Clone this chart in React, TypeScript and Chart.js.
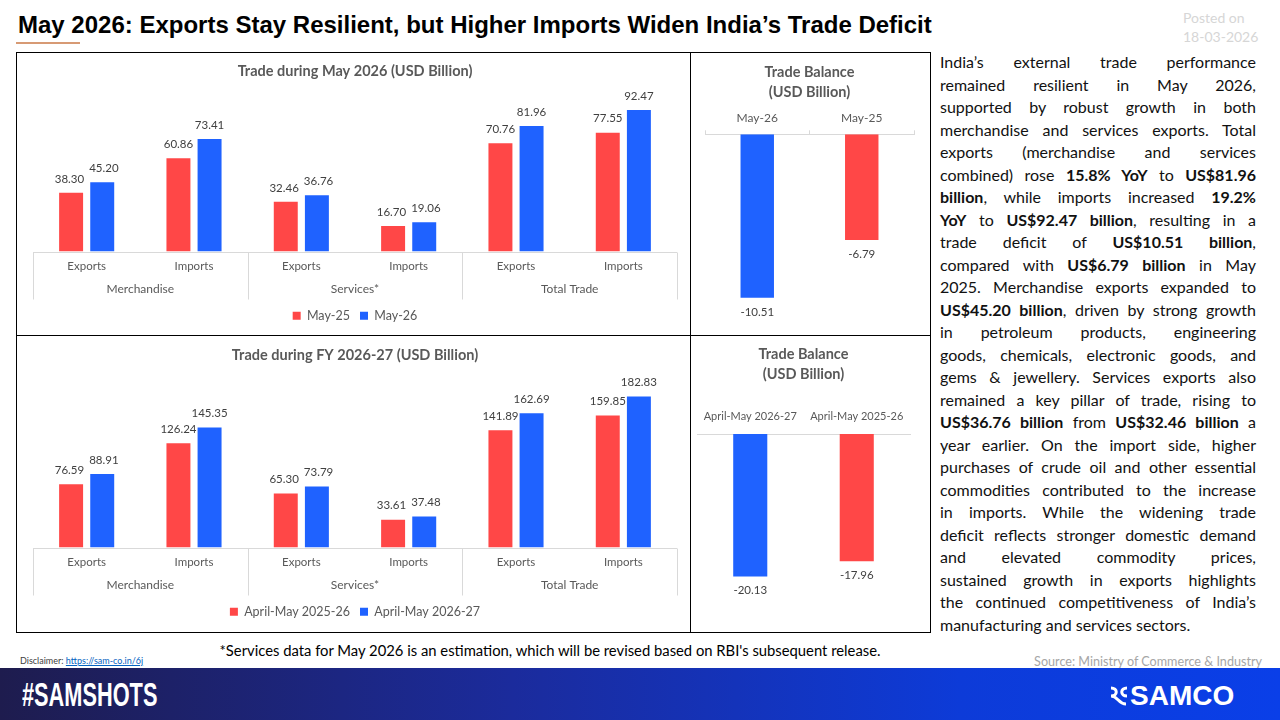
import React, { useEffect, useRef } from "react";
import { Chart, registerables } from "chart.js";

Chart.register(...registerables);

// ---------------- DATA ----------------
const tradeCategories = ["Exports", "Imports", "Exports", "Imports", "Exports", "Imports"];
const tradeGroups = ["Merchandise", "Services*", "Total Trade"];

const monthSeriesNames = ["May-25", "May-26"];
const may25Values = [38.3, 60.86, 32.46, 16.7, 70.76, 77.55];
const may26Values = [45.2, 73.41, 36.76, 19.06, 81.96, 92.47];

const fySeriesNames = ["April-May 2025-26", "April-May 2026-27"];
const fy2526Values = [76.59, 126.24, 65.3, 33.61, 141.89, 159.85];
const fy2627Values = [88.91, 145.35, 73.79, 37.48, 162.69, 182.83];

const monthBalanceLabels = ["May-26", "May-25"];
const monthBalanceValues = [-10.51, -6.79];

const fyBalanceLabels = ["April-May 2026-27", "April-May 2025-26"];
const fyBalanceValues = [-20.13, -17.96];

const commentaryLines = [
  "India\u2019s external trade performance",
  "remained resilient in May 2026,",
  "supported by robust growth in both",
  "merchandise and services exports. Total",
  "exports (merchandise and services",
  "combined) rose **15.8% YoY** to **US$81.96**",
  "**billion**, while imports increased **19.2%**",
  "**YoY** to **US$92.47 billion**, resulting in a",
  "trade deficit of **US$10.51 billion**,",
  "compared with **US$6.79 billion** in May",
  "2025. Merchandise exports expanded to",
  "**US$45.20 billion**, driven by strong growth",
  "in petroleum products, engineering",
  "goods, chemicals, electronic goods, and",
  "gems & jewellery. Services exports also",
  "remained a key pillar of trade, rising to",
  "**US$36.76 billion** from **US$32.46 billion** a",
  "year earlier. On the import side, higher",
  "purchases of crude oil and other essential",
  "commodities contributed to the increase",
  "in imports. While the widening trade",
  "deficit reflects stronger domestic demand",
  "and elevated commodity prices,",
  "sustained growth in exports highlights",
  "the continued competitiveness of India\u2019s",
  "manufacturing and services sectors.",
];

// ---------------- STYLE ----------------
const RED = "#FF4747";
const BLUE = "#1F62FF";
const FONT = "Lato, 'Noto Sans', sans-serif";
const AXIS_GREY = "#d9d9d9";
const TEXT_GREY = "#595959";

// Value labels above (or below, for negatives) each bar; neighbouring labels in a
// category are pushed apart when they would touch.
const valueLabelPlugin = {
  id: "valueLabels",
  afterDatasetsDraw(chart: any) {
    const ctx = chart.ctx;
    ctx.save();
    ctx.font = `11.5px ${FONT}`;
    ctx.fillStyle = "#404040";
    ctx.textAlign = "center";
    ctx.textBaseline = "middle";
    const nCat = chart.data.labels.length;
    for (let i = 0; i < nCat; i++) {
      const items: any[] = [];
      chart.data.datasets.forEach((ds: any, di: number) => {
        const el = chart.getDatasetMeta(di).data[i];
        if (!el) return;
        const v = ds.data[i] as number;
        const text = v.toFixed(2);
        const w = ctx.measureText(text).width;
        items.push({ text, x: el.x, y: v >= 0 ? el.y - 14 : el.y + 14, w });
      });
      items.sort((a, b) => a.x - b.x);
      for (let k = 0; k < items.length - 1; k++) {
        const a = items[k];
        const b = items[k + 1];
        const overlap = a.x + a.w / 2 + 5 - (b.x - b.w / 2);
        if (overlap > 0 && Math.abs(a.y - b.y) < 14) {
          a.x -= overlap / 2;
          b.x += overlap / 2;
        }
      }
      items.forEach((it) => ctx.fillText(it.text, it.x, it.y));
    }
    ctx.restore();
  },
};

// Draws the multi-level category axis: axis line, group separators and group names.
const groupAxisPlugin = {
  id: "groupAxis",
  afterDraw(chart: any, _args: any, opts: any) {
    const groups: string[] = opts.groups || [];
    if (!groups.length) return;
    const xs = chart.scales.x;
    const area = chart.chartArea;
    const ctx = chart.ctx;
    const per = xs.ticks.length / groups.length;
    ctx.save();
    ctx.strokeStyle = AXIS_GREY;
    ctx.lineWidth = 1;
    ctx.beginPath();
    const yb = Math.round(area.bottom) + 0.5;
    ctx.moveTo(area.left, yb);
    ctx.lineTo(area.right, yb);
    for (let g = 0; g <= groups.length; g++) {
      let px: number;
      if (g === 0) px = xs.left;
      else if (g === groups.length) px = xs.right;
      else px = (xs.getPixelForTick(g * per - 1) + xs.getPixelForTick(g * per)) / 2;
      px = Math.round(px) + 0.5;
      ctx.moveTo(px, yb);
      ctx.lineTo(px, xs.bottom);
    }
    ctx.stroke();
    ctx.font = `12px ${FONT}`;
    ctx.fillStyle = TEXT_GREY;
    ctx.textAlign = "center";
    ctx.textBaseline = "middle";
    groups.forEach((name, g) => {
      const c = (xs.getPixelForTick(g * per) + xs.getPixelForTick(g * per + per - 1)) / 2;
      ctx.fillText(name, c, xs.top + opts.labelOffset);
    });
    ctx.restore();
  },
};

type GroupedProps = {
  title: string;
  names: string[];
  a: number[];
  b: number[];
  yMax: number;
  width: number;
  height: number;
  titlePad: { top: number; bottom: number };
  bottomPad: number;
  legendPad: number;
};

function GroupedChart(p: GroupedProps) {
  const ref = useRef<HTMLCanvasElement>(null);
  useEffect(() => {
    if (!ref.current) return;
    const chart = new Chart(ref.current, {
      type: "bar",
      data: {
        labels: tradeCategories,
        datasets: [
          { label: p.names[0], data: p.a, backgroundColor: RED, barPercentage: 0.77, categoryPercentage: 0.58 },
          { label: p.names[1], data: p.b, backgroundColor: BLUE, barPercentage: 0.77, categoryPercentage: 0.58 },
        ],
      },
      options: {
        animation: false,
        responsive: false,
        devicePixelRatio: 1,
        layout: { padding: { left: 16, right: 12, top: 0, bottom: p.bottomPad } },
        plugins: {
          title: {
            display: true,
            text: p.title,
            color: TEXT_GREY,
            font: { family: FONT, size: 14.5, weight: "bold" },
            padding: p.titlePad,
          },
          legend: {
            position: "bottom",
            labels: {
              boxWidth: 8,
              boxHeight: 8,
              padding: p.legendPad,
              color: TEXT_GREY,
              font: { family: FONT, size: 12.5 },
            },
          },
          tooltip: { enabled: false },
          groupAxis: { groups: tradeGroups, labelOffset: 38 },
        },
        scales: {
          x: {
            type: "category",
            grid: { display: false, drawTicks: false },
            border: { display: false },
            ticks: { color: TEXT_GREY, font: { family: FONT, size: 11.5 }, padding: 8, maxRotation: 0 },
            afterFit: (s: any) => {
              s.height = 48;
            },
          },
          y: { display: false, min: 0, max: p.yMax },
        },
      } as any,
      plugins: [valueLabelPlugin, groupAxisPlugin],
    });
    return () => chart.destroy();
  }, []);
  return <canvas ref={ref} width={p.width} height={p.height} style={{ width: p.width, height: p.height, display: "block" }} />;
}

type BalanceProps = {
  labels: string[];
  values: number[];
  yMin: number;
  width: number;
  height: number;
  titlePad: { top: number; bottom: number };
  pad: { left: number; right: number; bottom: number };
  tickLen: number;
  tickPad: number;
  axisHeight: number;
  labelSize: number;
};

function BalanceChart(p: BalanceProps) {
  const ref = useRef<HTMLCanvasElement>(null);
  useEffect(() => {
    if (!ref.current) return;
    const chart = new Chart(ref.current, {
      type: "bar",
      data: {
        labels: p.labels,
        datasets: [
          {
            label: "Trade Balance",
            data: p.values,
            backgroundColor: [BLUE, RED],
            barPercentage: 0.5,
            categoryPercentage: 0.64,
          },
        ],
      },
      options: {
        animation: false,
        responsive: false,
        devicePixelRatio: 1,
        layout: { padding: { left: p.pad.left, right: p.pad.right, top: 0, bottom: p.pad.bottom } },
        plugins: {
          title: {
            display: true,
            text: ["Trade Balance", "(USD Billion)"],
            color: TEXT_GREY,
            font: { family: FONT, size: 14.5, weight: "bold", lineHeight: 1.39 },
            padding: p.titlePad,
          },
          legend: { display: false },
          tooltip: { enabled: false },
        },
        scales: {
          x: {
            position: "top",
            grid: {
              display: true,
              drawOnChartArea: false,
              drawTicks: p.tickLen > 0,
              tickLength: p.tickLen,
              offset: true,
              color: AXIS_GREY,
            },
            border: { display: true, color: AXIS_GREY },
            ticks: { color: TEXT_GREY, font: { family: FONT, size: p.labelSize }, padding: p.tickPad, maxRotation: 0 },
            afterFit: (s: any) => {
              s.height = p.axisHeight;
            },
          },
          y: { display: false, min: p.yMin, max: 0 },
        },
      } as any,
      plugins: [valueLabelPlugin],
    });
    return () => chart.destroy();
  }, []);
  return <canvas ref={ref} width={p.width} height={p.height} style={{ width: p.width, height: p.height, display: "block" }} />;
}

function RichLine({ text, last }: { text: string; last: boolean }) {
  const parts = text.split("**");
  return (
    <div
      style={{
        textAlign: last ? "left" : "justify",
        textAlignLast: last ? "left" : "justify",
        whiteSpace: "nowrap",
        height: 22.5,
      } as any}
    >
      {parts.map((s, i) => (i % 2 === 1 ? <b key={i}>{s}</b> : <span key={i}>{s}</span>))}
    </div>
  );
}

export default function App() {
  const abs = (l: number, t: number, extra: any = {}) => ({ position: "absolute", left: l, top: t, ...extra } as any);
  return (
    <div
      style={{
        position: "absolute",
        left: 0,
        top: 0,
        width: 1280,
        height: 720,
        background: "#ffffff",
        overflow: "hidden",
        fontFamily: FONT,
      }}
    >
      {/* Title */}
      <div
        style={abs(18, 10, {
          fontFamily: "'Liberation Sans', Arial, sans-serif",
          fontWeight: "bold",
          fontSize: 24,
          whiteSpace: "nowrap",
          color: "#000",
          lineHeight: "30px",
        })}
      >
        May 2026: Exports Stay Resilient, but Higher Imports Widen India’s Trade Deficit
      </div>
      <div style={abs(16, 42, { width: 64, height: 2, background: "#d79a74" })} />
      <div style={abs(1183, 8, { color: "#d6d6d6", fontSize: 14, lineHeight: "19px" })}>
        <div>Posted on</div>
        <div>18-03-2026</div>
      </div>

      {/* Frame */}
      <div style={abs(16, 52, { width: 915, height: 581, border: "1px solid #000", boxSizing: "border-box" })} />
      <div style={abs(690, 52, { width: 1, height: 581, background: "#000" })} />
      <div style={abs(16, 335, { width: 915, height: 1, background: "#000" })} />

      <div style={abs(17, 53)}>
        <GroupedChart
          title="Trade during May 2026 (USD Billion)"
          names={monthSeriesNames}
          a={may25Values}
          b={may26Values}
          yMax={100}
          width={672}
          height={282}
          titlePad={{ top: 10, bottom: 18 }}
          bottomPad={3}
          legendPad={10}
        />
      </div>
      <div style={abs(691, 53)}>
        <BalanceChart
          labels={monthBalanceLabels}
          values={monthBalanceValues}
          yMin={-12}
          width={238}
          height={282}
          titlePad={{ top: 9, bottom: 9 }}
          pad={{ left: 14, right: 15, bottom: 14 }}
          tickLen={4}
          tickPad={5}
          axisHeight={23}
          labelSize={12}
        />
      </div>
      <div style={abs(17, 337)}>
        <GroupedChart
          title="Trade during FY 2026-27 (USD Billion)"
          names={fySeriesNames}
          a={fy2526Values}
          b={fy2627Values}
          yMax={200}
          width={672}
          height={294}
          titlePad={{ top: 10, bottom: 18 }}
          bottomPad={3}
          legendPad={10}
        />
      </div>
      <div style={abs(691, 337)}>
        <BalanceChart
          labels={fyBalanceLabels}
          values={fyBalanceValues}
          yMin={-25}
          width={238}
          height={294}
          titlePad={{ top: 7, bottom: 18 }}
          pad={{ left: 6, right: 19, bottom: 20 }}
          tickLen={0}
          tickPad={11}
          axisHeight={31.7}
          labelSize={11}
        />
      </div>

      {/* Commentary */}
      <div style={abs(940, 51, { width: 316, fontSize: 16, lineHeight: "22.5px", color: "#111" })}>
        {commentaryLines.map((l, i) => (
          <RichLine key={i} text={l} last={i === commentaryLines.length - 1} />
        ))}
      </div>

      {/* Footnotes */}
      <div style={abs(150, 641, { width: 800, textAlign: "center", fontSize: 14.8, lineHeight: "18px", color: "#000" })}>
        *Services data for May 2026 is an estimation, which will be revised based on RBI's subsequent release.
      </div>
      <div style={abs(20, 655, { fontSize: 9, lineHeight: "12px", color: "#404040", whiteSpace: "nowrap" })}>
        Disclaimer:{" "}
        <span style={{ color: "#0563c1", textDecoration: "underline" }}>https://sam-co.in/6j</span>
      </div>
      <div style={abs(900, 654, { width: 362, textAlign: "right", fontSize: 12.6, lineHeight: "15px", color: "#a6a6a6" })}>
        Source: Ministry of Commerce &amp; Industry
      </div>

      {/* Banner */}
      <div
        style={abs(0, 668, {
          width: 1280,
          height: 52,
          background: "linear-gradient(90deg, #1e1c4e 0%, #1b2b9c 40%, #0d3bd8 75%, #0a3fe8 100%)",
        })}
      />
      <div
        style={abs(22, 674, {
          color: "#fff",
          fontFamily: "'Liberation Sans', Arial, sans-serif",
          fontWeight: "bold",
          fontSize: 34,
          lineHeight: "40px",
          transform: "scaleX(0.64)",
          transformOrigin: "left top",
          whiteSpace: "nowrap",
        })}
      >
        #SAMSHOTS
      </div>
      <svg style={abs(1108, 685)} width={22} height={22} viewBox="0 0 22 22">
        <path d="M3 3 C10 3 10 11 3 11 M3 11 C10 11 10 19 18 19" stroke="#fff" strokeWidth={3} fill="none" />
        <path d="M19 3 C12 3 12 11 19 11" stroke="#fff" strokeWidth={3} fill="none" />
      </svg>
      <div
        style={abs(1130, 679, {
          color: "#fff",
          fontFamily: "'Liberation Sans', Arial, sans-serif",
          fontWeight: "bold",
          fontSize: 28,
          lineHeight: "34px",
          whiteSpace: "nowrap",
        })}
      >
        SAMCO
      </div>
    </div>
  );
}
